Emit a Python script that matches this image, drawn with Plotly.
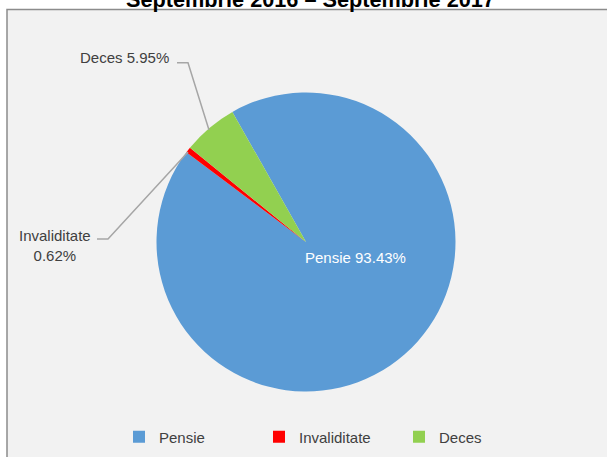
import plotly.graph_objects as go

categories = ["Pensie", "Invaliditate", "Deces"]
values = [93.43, 0.62, 5.95]
colors = ["#5B9BD5", "#FF0000", "#92D050"]
title_text = "Septembrie 2016 – Septembrie 2017"

W, H = 607, 457
FONT = "Liberation Sans, Arial, sans-serif"
TXT = "#404040"

def px(x):
    return x / W

def py(y):
    return 1 - y / H

cx, cy, r = 306, 242, 149.5

fig = go.Figure(go.Pie(
    labels=categories,
    values=values,
    marker=dict(colors=colors, line=dict(width=0)),
    sort=False,
    direction="clockwise",
    rotation=-29.5,
    textinfo="none",
    hoverinfo="label+percent",
    domain=dict(x=[px(cx - r), px(cx + r)], y=[py(cy + r), py(cy - r)]),
))

lbl = {c: f"{c} {v:.2f}%" for c, v in zip(categories, values)}

annotations = [
    dict(text=f"<b>{title_text}</b>", x=px(310), y=py(14.5), xref="paper", yref="paper",
         xanchor="center", yanchor="bottom", showarrow=False,
         font=dict(family=FONT, size=21.7, color="#000000")),
    dict(text=lbl["Pensie"], x=px(355), y=py(257), xref="paper", yref="paper",
         xanchor="center", yanchor="middle", showarrow=False,
         font=dict(family=FONT, size=15, color="#FFFFFF")),
    dict(text=lbl["Deces"], x=px(171), y=py(57), xref="paper", yref="paper",
         xanchor="right", yanchor="middle", showarrow=False,
         font=dict(family=FONT, size=15, color=TXT)),
    dict(text=f"{categories[1]}<br>{values[1]:.2f}%", x=px(55), y=py(245), xref="paper", yref="paper",
         xanchor="center", yanchor="middle", showarrow=False, align="center",
         font=dict(family=FONT, size=15, color=TXT)),
]

line_style = dict(color="#A6A6A6", width=1.5)
shapes = [
    dict(type="rect", xref="paper", yref="paper", x0=px(7), x1=1.02, y0=-0.02, y1=py(9.5),
         fillcolor="#F2F2F2", line=dict(color="#8C8C8C", width=1.5), layer="below"),
    dict(type="path", xref="paper", yref="paper",
         path=f"M{px(177)},{py(62.7)} L{px(188)},{py(62.7)} L{px(209)},{py(130)}",
         line=line_style),
    dict(type="path", xref="paper", yref="paper",
         path=f"M{px(97)},{py(239)} L{px(108)},{py(239)} L{px(188)},{py(152)}",
         line=line_style),
]

fig.update_layout(
    width=W, height=H,
    margin=dict(l=0, r=0, t=0, b=0),
    paper_bgcolor="#FFFFFF",
    plot_bgcolor="#F2F2F2",
    font=dict(family=FONT, size=15, color=TXT),
    showlegend=True,
    legend=dict(orientation="h", x=px(119), xanchor="left", y=py(437), yanchor="middle",
                bgcolor="rgba(0,0,0,0)", entrywidth=95, entrywidthmode="pixels",
                font=dict(family=FONT, size=15, color=TXT), traceorder="normal"),
    annotations=annotations,
    shapes=shapes,
)

fig.write_html("out.html", config={"displayModeBar": False},
               post_script="document.body.style.margin='0';document.body.style.overflow='hidden';")
